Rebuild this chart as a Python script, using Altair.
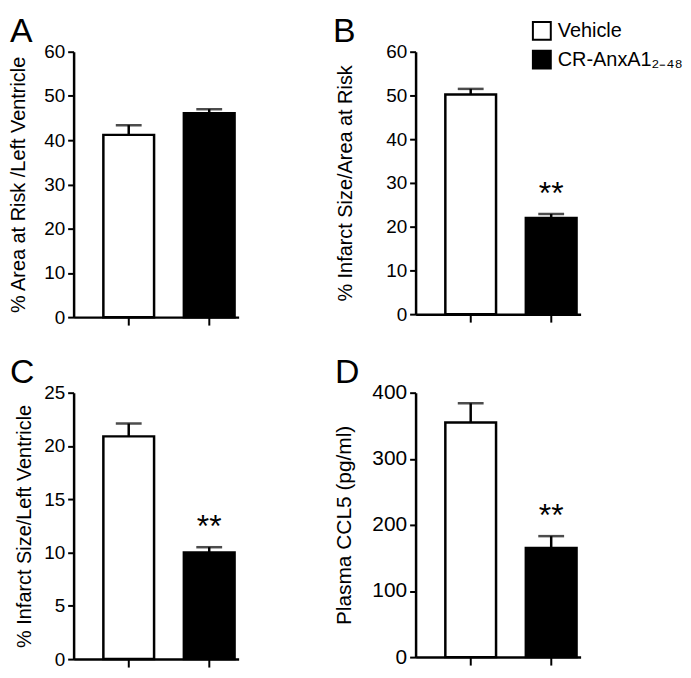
import altair as alt
import pandas as pd

FONT = "Liberation Sans"

groups = ["Vehicle", "CR-AnxA1₂₋₄₈"]

a_mean = [41.2, 46.1]
a_err = [2.2, 0.9]
a_stars = ["", ""]

b_mean = [50.2, 22.0]
b_err = [1.3, 0.9]
b_stars = ["", "**"]

c_mean = [20.9, 10.0]
c_err = [1.2, 0.5]
c_stars = ["", "**"]

d_mean = [355, 165]
d_err = [29, 18]
d_stars = ["", "**"]


def panel(letter, mean, err, stars, ytitle, ymax, ystep, height,
          letter_dx, title_pad, label_size, title_size, legend=False):
    df = pd.DataFrame({
        "group": groups,
        "mean": mean,
        "top": [m + e for m, e in zip(mean, err)],
        "stars": stars,
    })
    xscale = alt.Scale(paddingInner=0.37, paddingOuter=0.21, align=0.88)
    x = alt.X("group:N", sort=groups, scale=xscale,
              axis=alt.Axis(title=None, labels=False, ticks=True, tickSize=8,
                            tickWidth=2, tickColor="black", domainColor="black",
                            domainWidth=2.5))
    y = alt.Y("mean:Q", scale=alt.Scale(domain=[0, ymax], nice=False),
              axis=alt.Axis(title=ytitle, values=list(range(0, ymax + 1, ystep)),
                            grid=False, domainColor="black", domainWidth=2.5,
                            tickColor="black", tickWidth=2, tickSize=6,
                            labelFont=FONT, labelFontSize=label_size,
                            labelColor="black", labelPadding=3,
                            titleFont=FONT, titleFontSize=title_size,
                            titleFontWeight="normal", titleColor="black",
                            titlePadding=title_pad))
    if legend:
        leg = alt.Legend(title=None, orient="none", legendX=117, legendY=-31,
                         symbolType="square", symbolSize=324,
                         symbolStrokeColor="black", symbolStrokeWidth=2,
                         labelFont=FONT, labelFontSize=20, labelColor="black",
                         labelOffset=6, rowPadding=3, padding=0)
    else:
        leg = None
    fill = alt.Fill("group:N", sort=groups,
                    scale=alt.Scale(domain=groups, range=["white", "black"]),
                    legend=leg)
    base = alt.Chart(df)
    bars = base.mark_bar(stroke="black", strokeWidth=2.5).encode(x=x, y=y, fill=fill)
    rule = base.mark_rule(color="black", strokeWidth=2.5).encode(
        x=alt.X("group:N", sort=groups), y="mean:Q", y2="top:Q")
    cap = base.mark_tick(color="black", size=26, thickness=2.5).encode(
        x=alt.X("group:N", sort=groups), y="top:Q")
    txt = base.mark_text(font=FONT, fontSize=32, baseline="alphabetic",
                         color="black", dy=-10).encode(
        x=alt.X("group:N", sort=groups), y="top:Q", text="stars:N")
    lab = alt.Chart(pd.DataFrame({"letter": [letter]})).mark_text(
        font=FONT, fontSize=34, baseline="top", align="left",
        color="black").encode(x=alt.value(letter_dx), y=alt.value(-37),
                              text="letter:N")
    return alt.layer(bars, rule, cap, txt, lab).properties(width=166, height=height)


pA = panel("A", a_mean, a_err, a_stars, "% Area at Risk /Left Ventricle",
           60, 10, 267, -64, 15, 19, 20)
pB = panel("B", b_mean, b_err, b_stars, "% Infarct Size/Area at Risk",
           60, 10, 264, -83, 30, 19, 20, legend=True)
pC = panel("C", c_mean, c_err, c_stars, "% Infarct Size/Left Ventricle",
           25, 5, 268, -64, 9, 19, 20)
pD = panel("D", d_mean, d_err, d_stars, "Plasma CCL5 (pg/ml)",
           400, 100, 266, -81, 17, 21, 21)

chart = alt.concat(pA, pB, pC, pD, columns=2, spacing={"row": 76, "column": 178},
                   bounds="flush").resolve_scale(fill="independent").properties(
    padding={"left": 0, "top": 5, "right": 0, "bottom": 0}
).configure_view(stroke=None)

chart.save("out.html", embed_options={"renderer": "svg", "actions": False})
